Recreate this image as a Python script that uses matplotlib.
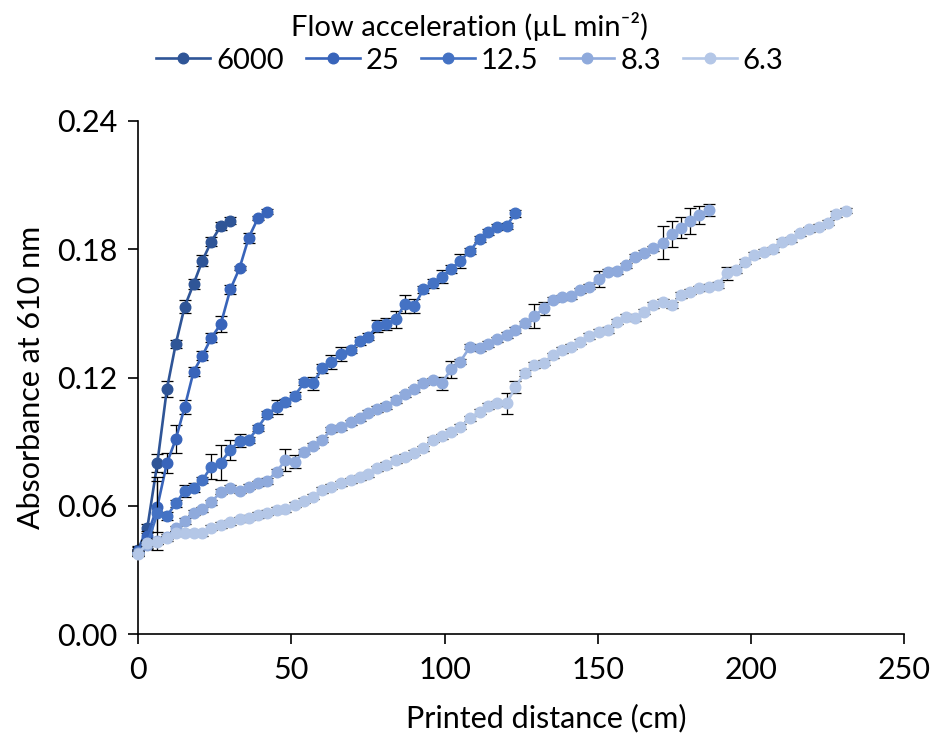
import numpy as np
import matplotlib
matplotlib.use("Agg")
import matplotlib.pyplot as plt

plt.rcParams["font.family"] = ["Lato", "DejaVu Sans"]

# shared printed-distance grid (cm); each run uses a prefix of it
distance_cm = [
    0, 3.0, 6.3, 9.4, 12.3, 15.2, 18.1, 21.0, 23.9, 27.0,
    30.1, 33.1, 36.1, 39.1, 42.1, 45.2, 48.1, 51.1, 54.3, 57.1,
    60.1, 63.1, 66.3, 69.4, 72.3, 75.1, 78.1, 81.0, 84.1, 87.0,
    90.1, 93.1, 96.1, 99.1, 102.1, 105.1, 108.3, 111.4, 114.3, 117.2,
    120.2, 123.1, 126.1, 129.3, 132.4, 135.4, 138.2, 141.1, 144.1, 147.0,
    150.3, 153.4, 156.3, 159.2, 162.1, 165.2, 168.1, 171.2, 174.1, 177.1,
    180.1, 183.0, 186.1, 189.1, 192.1, 195.1, 198.1, 201.1, 204.1, 207.0,
    210.1, 213.1, 216.1, 219.0, 222.1, 225.0, 227.8, 231.1,
]

abs_6000 = [0.0395, 0.0494, 0.0800, 0.1145, 0.1357, 0.1531, 0.1637, 0.1747,
            0.1836, 0.1909, 0.1934]
err_6000 = [0.0015, 0.002, 0.004, 0.0037, 0.002, 0.003, 0.0025, 0.0025,
            0.002, 0.002, 0.0015]

abs_25 = [0.0390, 0.0460, 0.0596, 0.0799, 0.0911, 0.1061, 0.1227, 0.1302,
          0.1386, 0.1450, 0.1612, 0.1711, 0.1854, 0.1945, 0.1976]
err_25 = [0.0015, 0.002, 0.012, 0.0047, 0.0066, 0.0033, 0.002, 0.002,
          0.002, 0.0037, 0.0023, 0.001, 0.0023, 0.001, 0.001]

abs_12_5 = [0.0385, 0.0420, 0.0565, 0.0552, 0.0611, 0.0669, 0.0685, 0.0720,
            0.0783, 0.0802, 0.0861, 0.0905, 0.0908, 0.0965, 0.1028, 0.1061,
            0.1084, 0.1115, 0.1178, 0.1173, 0.1243, 0.1271, 0.1310, 0.1329,
            0.1371, 0.1391, 0.1441, 0.1450, 0.1472, 0.1544, 0.1535, 0.1612,
            0.1641, 0.1672, 0.1708, 0.1745, 0.1793, 0.1848, 0.1882, 0.1903,
            0.1909, 0.1968]
err_12_5 = [0.0015, 0.002, 0.017, 0.002, 0.0015, 0.003, 0.002, 0.0015,
            0.0057, 0.008, 0.0047, 0.003, 0.0015, 0.0015, 0.0015, 0.0033,
            0.0015, 0.0015, 0.0015, 0.003, 0.002, 0.0033, 0.0035, 0.0015,
            0.002, 0.0015, 0.0029, 0.003, 0.004, 0.0043, 0.0033, 0.0015,
            0.002, 0.003, 0.002, 0.0034, 0.0015, 0.0015, 0.0015, 0.0015,
            0.0015, 0.0015]

abs_8_3 = [0.0380, 0.0415, 0.0435, 0.0455, 0.0494, 0.0529, 0.0568, 0.0583,
           0.0616, 0.0666, 0.0685, 0.0671, 0.0689, 0.0705, 0.0716, 0.0759,
           0.0814, 0.0806, 0.0853, 0.0880, 0.0908, 0.0958, 0.0967, 0.0990,
           0.1009, 0.1035, 0.1053, 0.1067, 0.1095, 0.1121, 0.1145, 0.1176,
           0.1188, 0.1173, 0.1238, 0.1274, 0.1344, 0.1337, 0.1357, 0.1379,
           0.1399, 0.1422, 0.1454, 0.1488, 0.1524, 0.1563, 0.1575, 0.1581,
           0.1609, 0.1625, 0.1659, 0.1695, 0.1698, 0.1726, 0.1765, 0.1784,
           0.1805, 0.1831, 0.1871, 0.1901, 0.1932, 0.1960, 0.1984]
err_8_3 = [0.0015, 0.0012, 0.0012, 0.0012, 0.0012, 0.0012, 0.0012, 0.0012,
           0.0012, 0.0012, 0.0012, 0.0012, 0.0012, 0.0012, 0.0012, 0.0015,
           0.005, 0.003, 0.0012, 0.0012, 0.0012, 0.0012, 0.0012, 0.0012,
           0.0012, 0.0012, 0.0012, 0.0012, 0.0012, 0.0012, 0.0012, 0.0012,
           0.0012, 0.003, 0.004, 0.0012, 0.0012, 0.0012, 0.0012, 0.0012,
           0.0012, 0.0012, 0.0012, 0.0055, 0.003, 0.0012, 0.0012, 0.0012,
           0.0012, 0.0012, 0.0037, 0.0012, 0.0012, 0.0012, 0.0012, 0.0012,
           0.0012, 0.0078, 0.006, 0.005, 0.006, 0.004, 0.003]

abs_6_3 = [0.0375, 0.0424, 0.0432, 0.0448, 0.0471, 0.0474, 0.0474, 0.0472,
           0.0497, 0.0510, 0.0522, 0.0537, 0.0544, 0.0557, 0.0568, 0.0580,
           0.0583, 0.0604, 0.0624, 0.0642, 0.0674, 0.0689, 0.0705, 0.0720,
           0.0733, 0.0747, 0.0775, 0.0791, 0.0814, 0.0830, 0.0848, 0.0869,
           0.0908, 0.0926, 0.0946, 0.0970, 0.1009, 0.1040, 0.1067, 0.1079,
           0.1079, 0.1154, 0.1222, 0.1258, 0.1269, 0.1305, 0.1329, 0.1344,
           0.1368, 0.1394, 0.1414, 0.1422, 0.1461, 0.1485, 0.1477, 0.1508,
           0.1539, 0.1555, 0.1539, 0.1586, 0.1602, 0.1617, 0.1625, 0.1633,
           0.1688, 0.1703, 0.1742, 0.1773, 0.1789, 0.1800, 0.1836, 0.1847,
           0.1875, 0.1893, 0.1906, 0.1924, 0.1965, 0.1980]
err_6_3 = [0.0012] * 40 + [0.005, 0.0028, 0.0015, 0.0015] + [0.0012] * 20 \
    + [0.003] + [0.0012] * 13

labels = ["6000", "25", "12.5", "8.3", "6.3"]
colors = ["#2F5597", "#3864BA", "#4472C4", "#8FAADC", "#B4C7E7"]
series = [(abs_6000, err_6000), (abs_25, err_25), (abs_12_5, err_12_5),
          (abs_8_3, err_8_3), (abs_6_3, err_6_3)]

fig = plt.figure(figsize=(9.34, 7.40), dpi=100)
ax = fig.add_axes([0.1478, 0.1432, 0.8205, 0.6933])

handles = []
for k, ((y, e), lab, col) in enumerate(zip(series, labels, colors)):
    x = distance_cm[:len(y)]
    # error bars sit underneath the markers, as in the spreadsheet export
    eb = ax.errorbar(x, y, yerr=e, fmt="none", ecolor="black",
                     elinewidth=0.9, capsize=4.5, capthick=0.9,
                     zorder=2 + k)
    for art in eb.lines[1] + eb.lines[2]:
        art.set_clip_on(False)
    ln, = ax.plot(x, y, "-o", color=col, lw=1.9, ms=7.6, mec=col,
                  clip_on=False, zorder=2 + k + 0.5, label=lab)
    handles.append(ln)

ax.set_xlim(0, 250)
ax.set_ylim(0, 0.24)
ax.set_xticks([0, 50, 100, 150, 200, 250])
ax.set_yticks([0, 0.06, 0.12, 0.18, 0.24])
ax.set_yticklabels([f"{v:.2f}" for v in [0, 0.06, 0.12, 0.18, 0.24]])
for s in ["top", "right"]:
    ax.spines[s].set_visible(False)
for s in ["left", "bottom"]:
    ax.spines[s].set_linewidth(1.2)
ax.tick_params(direction="out", length=7, width=1.2, labelsize=22)
ax.tick_params(axis="y", pad=8)
ax.tick_params(axis="x", pad=9)

ax.set_xlabel("Printed distance (cm)", fontsize=22)
ax.xaxis.set_label_coords(0.533, -0.135)
ax.set_ylabel("Absorbance at 610 nm", fontsize=22)
ax.yaxis.set_label_coords(-0.122, 0.501)

leg = fig.legend(handles=handles, loc="upper center",
                 bbox_to_anchor=(0.503, 1.008), ncol=5, frameon=False,
                 title="Flow acceleration (µL min⁻²)", fontsize=21,
                 title_fontsize=21, handlelength=1.85, handletextpad=0.2,
                 columnspacing=0.75, borderaxespad=0.2, labelspacing=0.2)
leg._legend_box.sep = 5

fig.savefig("out.png", dpi=100, facecolor="w")
